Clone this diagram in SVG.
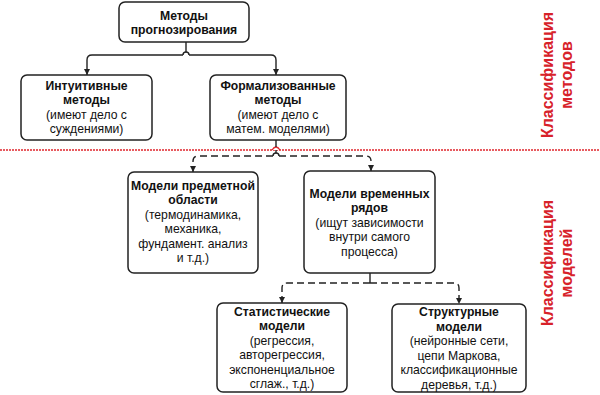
<svg xmlns="http://www.w3.org/2000/svg" width="600" height="395" viewBox="0 0 600 395">
<defs>
<style>
.box{fill:#fff;stroke:#222;stroke-width:1.5}
.t{font-family:"Liberation Sans",Arial,sans-serif;font-size:12.2px;fill:#111;text-anchor:middle}
.b{font-weight:bold}
.red{font-family:"Liberation Sans",Arial,sans-serif;font-size:16px;font-weight:bold;fill:#d7222a;text-anchor:middle}
.c{fill:none;stroke:#222;stroke-width:1.4}
.d{fill:none;stroke:#222;stroke-width:1.4;stroke-dasharray:7,4}
</style>
<marker id="ar" viewBox="0 0 10 10" refX="10" refY="5" markerWidth="6" markerHeight="6" orient="auto" markerUnits="userSpaceOnUse">
<path d="M0,0 L10,5 L0,10 z" fill="#222"/>
</marker>
</defs>
<rect width="600" height="395" fill="#fff"/>
<line x1="0" y1="150" x2="600" y2="150" stroke="#e0262d" stroke-width="1.5" stroke-dasharray="2,1"/>
<path d="M272,150 Q276,144 280,150" fill="#fff" stroke="#e0262d" stroke-width="1.3"/>
<g id="connectors">
<path class="c" d="M186,42 V52"/>
<path class="c" d="M183,55 A3,3 0 0 1 189,55"/>
<path class="c" marker-end="url(#ar)" d="M183,55 H92 Q87,55 87,60 V75"/>
<path class="c" marker-end="url(#ar)" d="M189,55 H271 Q276,55 276,60 V75"/>
<path class="c" d="M276,140 V147"/>
<path class="d" d="M276,150 V153"/>
<path class="c" d="M273,156 A3,3 0 0 1 279,156"/>
<path class="d" marker-end="url(#ar)" d="M273,156 H198 Q193,156 193,161 V172"/>
<path class="d" marker-end="url(#ar)" d="M279,156 H366 Q371,156 371,161 V171"/>
<path class="c" d="M370,273 V283"/>
<path class="d" marker-end="url(#ar)" d="M370,283 H287 Q282,283 282,288 V303"/>
<path class="d" marker-end="url(#ar)" d="M370,283 H454 Q459,283 459,288 V304"/>
</g>
<g id="n-methods">
<rect class="box" x="119" y="2" width="130" height="40" rx="6"/>
<text class="t b"><tspan x="184" y="19.5">Методы</tspan><tspan x="184" y="33.5">прогнозирования</tspan></text>
</g>
<g id="n-intuitive">
<rect class="box" x="21" y="75" width="131" height="65" rx="6"/>
<text class="t"><tspan class="b" x="86.5" y="89.5">Интуитивные</tspan><tspan class="b" x="86.5" y="104">методы</tspan><tspan x="86.5" y="118.5">(имеют дело с</tspan><tspan x="86.5" y="133">суждениями)</tspan></text>
</g>
<g id="n-formal">
<rect class="box" x="210" y="75" width="136" height="65" rx="6"/>
<text class="t"><tspan class="b" x="278" y="89.5">Формализованные</tspan><tspan class="b" x="278" y="104">методы</tspan><tspan x="278" y="118.5">(имеют дело с</tspan><tspan x="278" y="133">матем. моделями)</tspan></text>
</g>
<g id="n-subject">
<rect class="box" x="128" y="172" width="130" height="101" rx="6"/>
<text class="t"><tspan class="b" x="193" y="189.5">Модели предметной</tspan><tspan class="b" x="193" y="204">области</tspan><tspan x="193" y="218.5">(термодинамика,</tspan><tspan x="193" y="233">механика,</tspan><tspan x="193" y="247.5">фундамент. анализ</tspan><tspan x="193" y="262">и т.д.)</tspan></text>
</g>
<g id="n-timeseries">
<rect class="box" x="304" y="171" width="131" height="102" rx="6"/>
<text class="t"><tspan class="b" x="369.5" y="197.5">Модели временных</tspan><tspan class="b" x="369.5" y="212">рядов</tspan><tspan x="369.5" y="226.5">(ищут зависимости</tspan><tspan x="369.5" y="241">внутри самого</tspan><tspan x="369.5" y="255.5">процесса)</tspan></text>
</g>
<g id="n-stat">
<rect class="box" x="217" y="303" width="130" height="89" rx="6"/>
<text class="t"><tspan class="b" x="282" y="315.5">Статистические</tspan><tspan class="b" x="282" y="330">модели</tspan><tspan x="282" y="344.5">(регрессия,</tspan><tspan x="282" y="359">авторегрессия,</tspan><tspan x="282" y="373.5">экспоненциальное</tspan><tspan x="282" y="388">сглаж., т.д.)</tspan></text>
</g>
<g id="n-struct">
<rect class="box" x="392" y="304" width="134" height="88" rx="6"/>
<text class="t"><tspan class="b" x="459" y="316">Структурные</tspan><tspan class="b" x="459" y="330.5">модели</tspan><tspan x="459" y="345">(нейронные сети,</tspan><tspan x="459" y="359.5">цепи Маркова,</tspan><tspan x="459" y="374">классификационные</tspan><tspan x="459" y="388.5">деревья, т.д.)</tspan></text>
</g>
<g id="label-methods">
<text class="red" transform="rotate(-90)"><tspan x="-75" y="553">Классификация</tspan><tspan x="-75" y="572">методов</tspan></text>
</g>
<g id="label-models">
<text class="red" transform="rotate(-90)"><tspan x="-263" y="553">Классификация</tspan><tspan x="-263" y="572">моделей</tspan></text>
</g>
</svg>
